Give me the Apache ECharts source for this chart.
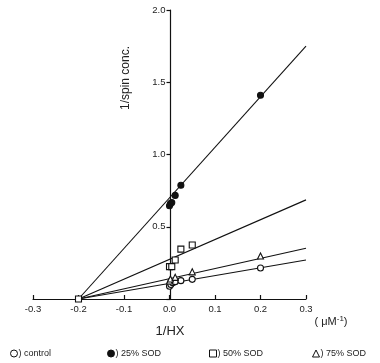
<!DOCTYPE html>
<html>
<head>
<meta charset="utf-8">
<script src="https://cdn.jsdelivr.net/npm/echarts@6/dist/echarts.min.js"></script>
<style>html,body{margin:0;padding:0;background:#fff}#c{width:380px;height:363px}</style>
</head>
<body>
<div id="c"></div>
<script>
// Data
const controlPts = [[0, 0.088], [0.003, 0.10], [0.007, 0.113], [0.0125, 0.12], [0.025, 0.127], [0.05, 0.136], [0.2, 0.215]];
const sod25Pts = [[0, 0.645], [0.002, 0.66], [0.005, 0.667], [0.0125, 0.717], [0.025, 0.787], [0.2, 1.41]];
const sod50Pts = [[-0.2, 0], [0, 0.224], [0.005, 0.224], [0.0125, 0.27], [0.025, 0.345], [0.05, 0.374]];
const sod75Pts = [[0, 0.125], [0.002, 0.138], [0.0125, 0.15], [0.05, 0.188], [0.2, 0.298]];
// Fitted lines (endpoints)
const controlLine = [[-0.2, 0], [0.3, 0.27]];
const sod25Line = [[-0.2, 0], [0.3, 1.75]];
const sod50Line = [[-0.2, 0], [0.3, 0.686]];
const sod75Line = [[-0.2, 0], [0.3, 0.351]];
const seriesNames = ['control', '25% SOD', '50% SOD', '75% SOD'];
const xTicks = [-0.3, -0.2, -0.1, 0.0, 0.1, 0.2, 0.3];
const yTicks = [0.5, 1.0, 1.5, 2.0];

const FONT = 'Liberation Sans, Arial, sans-serif';
const chart = echarts.init(document.getElementById('c'), null, {renderer: 'canvas'});

function lineSeries(d) {
  return {type: 'line', data: d, symbol: 'none', silent: true,
    lineStyle: {color: '#111', width: 1.1}, z: 2};
}
function scatter(name, d, symbol, fill, size) {
  return {type: 'scatter', name: name, data: d, symbol: symbol, symbolSize: size,
    itemStyle: {color: fill, borderColor: '#111', borderWidth: 1.1, opacity: 1}, z: 3};
}
function legendAt(name, left) {
  return {data: [name], left: left, top: 344, itemWidth: 7, itemHeight: 7, itemGap: 0,
    formatter: ') {name}', selectedMode: false,
    itemStyle: {borderWidth: 1},
    textStyle: {fontFamily: FONT, fontSize: 9, color: '#222', padding: [0, 0, 0, -4]}};
}

chart.setOption({
  animation: false,
  backgroundColor: '#fff',
  grid: {left: 33, right: 74, top: 10, bottom: 64},
  xAxis: {
    type: 'value', min: -0.3, max: 0.3, interval: 0.1,
    axisLine: {lineStyle: {color: '#111', width: 1.2}},
    axisTick: {inside: true, length: 4, lineStyle: {color: '#111', width: 1.2}},
    splitLine: {show: false},
    axisLabel: {fontFamily: FONT, fontSize: 9.5, color: '#222', margin: 5,
      formatter: v => {const t = xTicks.find(x => Math.abs(x - v) < 1e-9); return t === undefined ? '' : t.toFixed(1);}}
  },
  yAxis: {
    type: 'value', min: 0, max: 2, interval: 0.5,
    offset: -137.5,
    axisLine: {onZero: false, lineStyle: {color: '#111', width: 1.2}},
    axisTick: {length: 4, lineStyle: {color: '#111', width: 1.2}},
    splitLine: {show: false},
    axisLabel: {fontFamily: FONT, fontSize: 9.5, color: '#222', margin: 5,
      formatter: v => {const t = yTicks.find(y => Math.abs(y - v) < 1e-9); return t === undefined ? '' : t.toFixed(1);}}
  },
  legend: [
    legendAt(seriesNames[0], 5),
    legendAt(seriesNames[1], 102),
    legendAt(seriesNames[2], 204),
    legendAt(seriesNames[3], 307)
  ],
  graphic: [
    {type: 'text', x: 126, y: 78, rotation: Math.PI / 2,
      style: {text: '1/spin conc.', font: '12px ' + FONT, fill: '#222', align: 'center', verticalAlign: 'middle'}},
    {type: 'text', x: 170, y: 331,
      style: {text: '1/HX', font: '13px ' + FONT, fill: '#222', align: 'center', verticalAlign: 'middle'}},
    {type: 'text', x: 331, y: 322,
      style: {text: '( μM{s|-1})', font: '11px ' + FONT, fill: '#222', align: 'center', verticalAlign: 'middle',
        rich: {s: {fontSize: 8, fontFamily: FONT, fill: '#222', verticalAlign: 'top', padding: [0, 0, 6, 0]}}}}
  ],
  series: [
    lineSeries(sod25Line), lineSeries(sod50Line), lineSeries(sod75Line), lineSeries(controlLine),
    scatter(seriesNames[0], controlPts, 'circle', '#fff', 6),
    scatter(seriesNames[1], sod25Pts, 'circle', '#111', 6),
    scatter(seriesNames[2], sod50Pts, 'rect', '#fff', 6),
    scatter(seriesNames[3], sod75Pts, 'triangle', '#fff', 6)
  ]
});
</script>
</body>
</html>
